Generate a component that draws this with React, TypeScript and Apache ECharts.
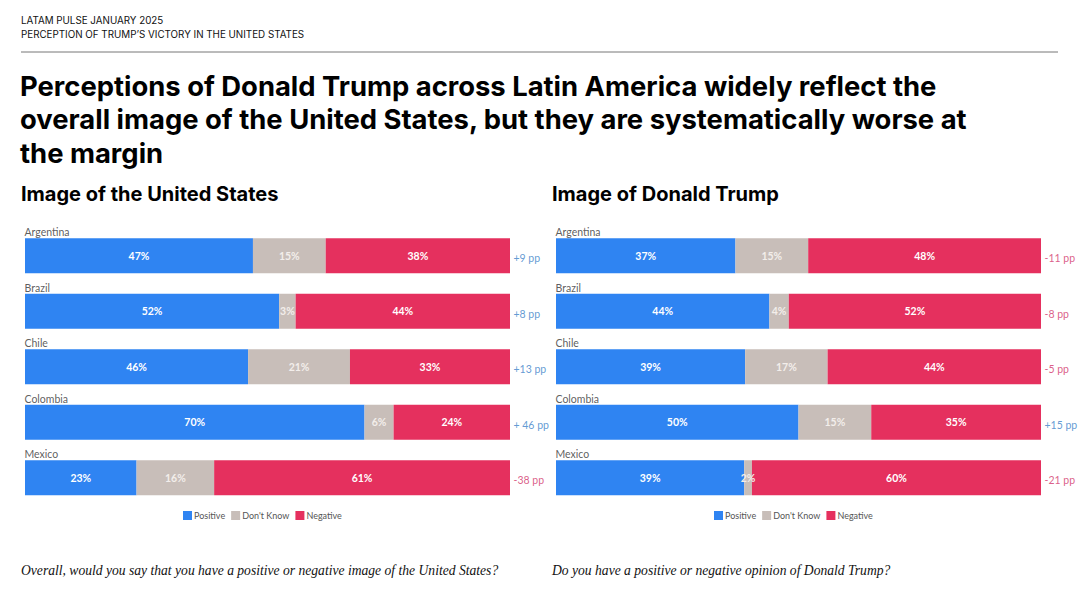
import React, { useEffect, useRef } from "react";
import * as echarts from "echarts";

const countries = ["Argentina", "Brazil", "Chile", "Colombia", "Mexico"];
const usPositive = [47, 52.4, 46, 70, 23];
const usDontKnow = [15, 3.4, 21, 6, 16];
const usNegative = [38, 44.2, 33, 24, 61];
const usDiffLabels = ["+9 pp", "+8 pp", "+13 pp", "+ 46 pp", "-38 pp"];

const trumpPositive = [37, 44, 39, 50, 38.8];
const trumpDontKnow = [15, 4, 17, 15, 1.6];
const trumpNegative = [48, 52, 44, 35, 59.6];
const trumpDiffLabels = ["-11 pp", "-8 pp", "-5 pp", "+15 pp", "-21 pp"];

const legendNames = ["Positive", "Don't Know", "Negative"];

const BLUE = "#2f84f2";
const GRAY = "#c8beb9";
const RED = "#e5305e";
const POS_TXT = "#3a7fc8";
const NEG_TXT = "#d2356a";

const LABEL_FONT = "Lato, 'Noto Sans', sans-serif";

function makeBars(gridIndex: number, pos: number[], dk: number[], neg: number[]) {
  const stack = "s" + gridIndex;
  const mk = (name: string, data: number[], color: string, txt: string) => ({
    type: "bar",
    name,
    stack,
    xAxisIndex: gridIndex,
    yAxisIndex: gridIndex,
    data,
    barWidth: 35,
    itemStyle: { color },
    label: {
      show: true,
      position: "inside",
      formatter: (p: any) => Math.round(p.value) + "%",
      color: txt,
      fontSize: 10.5,
      fontWeight: "bold",
      fontFamily: LABEL_FONT,
    },
  });
  return [
    mk("Positive", pos, BLUE, "#ffffff"),
    mk("Don't Know", dk, GRAY, "#f3eeeb"),
    mk("Negative", neg, RED, "#ffffff"),
  ];
}

function makeCountryLabels(gridIndex: number) {
  return {
    type: "scatter",
    name: "countries" + gridIndex,
    xAxisIndex: gridIndex,
    yAxisIndex: gridIndex,
    symbolSize: 1,
    itemStyle: { color: "rgba(0,0,0,0)" },
    silent: true,
    data: countries.map((c) => [0, c]),
    label: {
      show: true,
      position: [0, -23],
      align: "left",
      verticalAlign: "middle",
      formatter: (p: any) => p.value[1],
      color: "#333333",
      fontSize: 10.5,
      fontFamily: LABEL_FONT,
    },
  };
}

function makeDiffLabels(gridIndex: number, labels: string[]) {
  return {
    type: "scatter",
    name: "diff" + gridIndex,
    xAxisIndex: gridIndex,
    yAxisIndex: gridIndex,
    symbolSize: 1,
    itemStyle: { color: "rgba(0,0,0,0)" },
    silent: true,
    data: countries.map((c, i) => ({
      value: [100, c],
      label: { color: labels[i].startsWith("-") ? NEG_TXT : POS_TXT },
    })),
    label: {
      show: true,
      position: [4, 3],
      align: "left",
      verticalAlign: "middle",
      formatter: (p: any) => labels[p.dataIndex],
      fontSize: 10.5,
      fontFamily: LABEL_FONT,
    },
  };
}

export default function App() {
  const ref = useRef<HTMLDivElement>(null);
  useEffect(() => {
    if (!ref.current) return;
    const chart = echarts.init(ref.current, undefined, { renderer: "svg" });
    const axisCommon = {
      show: false,
    };
    const legendCommon = {
      data: legendNames,
      top: 506,
      padding: 0,
      icon: "rect",
      itemWidth: 9,
      itemHeight: 9,
      itemGap: 6,
      textStyle: { fontSize: 9, color: "#555555", fontFamily: LABEL_FONT, padding: [0, 0, 0, -3] },
      selectedMode: false,
    };
    const option: any = {
      animation: false,
      backgroundColor: "#ffffff",
      grid: [
        { left: 25, width: 485, top: 228, height: 277.5 },
        { left: 556, width: 485, top: 228, height: 277.5 },
      ],
      xAxis: [
        { type: "value", min: 0, max: 100, gridIndex: 0, ...axisCommon },
        { type: "value", min: 0, max: 100, gridIndex: 1, ...axisCommon },
      ],
      yAxis: [
        { type: "category", data: countries, inverse: true, gridIndex: 0, ...axisCommon },
        { type: "category", data: countries, inverse: true, gridIndex: 1, ...axisCommon },
      ],
      legend: [
        { ...legendCommon, left: 183, top: 511 },
        { ...legendCommon, left: 714, top: 511 },
      ],
      series: [
        ...makeBars(0, usPositive, usDontKnow, usNegative),
        ...makeBars(1, trumpPositive, trumpDontKnow, trumpNegative),
        makeCountryLabels(0),
        makeCountryLabels(1),
        makeDiffLabels(0, usDiffLabels),
        makeDiffLabels(1, trumpDiffLabels),
      ],
      graphic: [
        {
          type: "text",
          left: 21,
          top: 15,
          style: { text: "LATAM PULSE JANUARY 2025", fontSize: 9.8, fill: "#111", fontFamily: "Inter, sans-serif" },
        },
        {
          type: "text",
          left: 21,
          top: 29,
          style: {
            text: "PERCEPTION OF TRUMP\u2019S VICTORY IN THE UNITED STATES",
            fontSize: 9.8,
            fill: "#111",
            fontFamily: "Inter, sans-serif",
          },
        },
        {
          type: "line",
          shape: { x1: 21, y1: 52, x2: 1058, y2: 52 },
          style: { stroke: "#777", lineWidth: 1 },
        },
        {
          type: "text",
          left: 20,
          top: 69,
          style: {
            text:
              "Perceptions of Donald Trump across Latin America widely reflect the\noverall image of the United States, but they are systematically worse at\nthe margin",
            fontSize: 27.4,
            lineHeight: 33.5,
            fontWeight: "bold",
            fill: "#000",
            fontFamily: "Inter, sans-serif",
          },
        },
        {
          type: "text",
          left: 21,
          top: 184,
          style: {
            text: "Image of the United States",
            fontSize: 20,
            fontWeight: "bold",
            fill: "#000",
            fontFamily: "Inter, sans-serif",
          },
        },
        {
          type: "text",
          left: 552,
          top: 184,
          style: {
            text: "Image of Donald Trump",
            fontSize: 20,
            fontWeight: "bold",
            fill: "#000",
            fontFamily: "Inter, sans-serif",
          },
        },
        {
          type: "text",
          left: 21,
          top: 563,
          style: {
            text: "Overall, would you say that you have a positive or negative image of the United States?",
            fontSize: 13.6,
            fontStyle: "italic",
            fill: "#111",
            fontFamily: "'Liberation Serif', serif",
          },
        },
        {
          type: "text",
          left: 552,
          top: 563,
          style: {
            text: "Do you have a positive or negative opinion of Donald Trump?",
            fontSize: 13.6,
            fontStyle: "italic",
            fill: "#111",
            fontFamily: "'Liberation Serif', serif",
          },
        },
      ],
    };
    chart.setOption(option);
    return () => chart.dispose();
  }, []);
  return (
    <div
      ref={ref}
      style={{ position: "fixed", left: 0, top: 0, width: 1080, height: 607, background: "#fff" }}
    />
  );
}
